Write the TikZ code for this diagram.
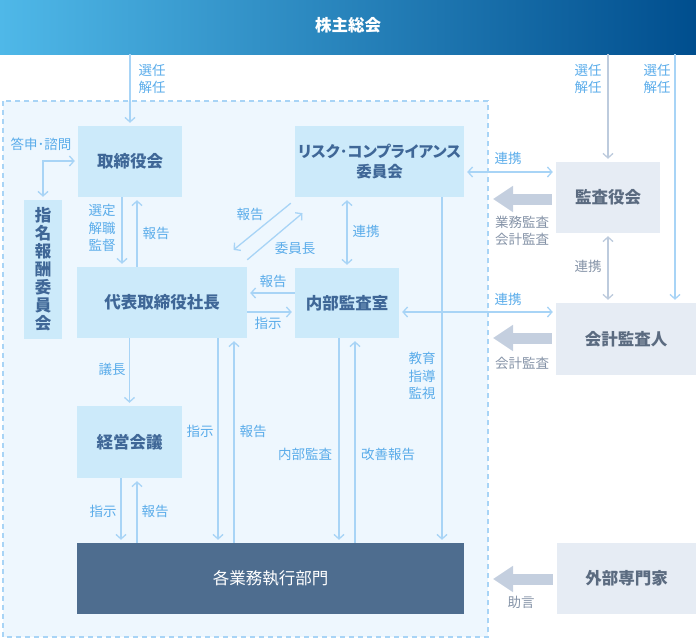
\documentclass[tikz,border=0pt]{standalone}
\usepackage{fontspec}
\setmainfont{Noto Sans CJK JP}
\newfontfamily\paltfont[RawFeature=+palt]{Noto Sans CJK JP}
\usetikzlibrary{arrows.meta}
\definecolor{hdrL}{HTML}{4FB8E8}
\definecolor{hdrR}{HTML}{004E8E}
\definecolor{boxblue}{HTML}{CCEAFA}
\definecolor{boxtxt}{HTML}{3F6797}
\definecolor{graybox}{HTML}{E6ECF4}
\definecolor{graytxt}{HTML}{5B6B80}
\definecolor{darkbox}{HTML}{4E6D8F}
\definecolor{lblblue}{HTML}{5AACEA}
\definecolor{lineblue}{HTML}{A8D4F6}
\definecolor{linegray}{HTML}{BDCBDD}
\definecolor{lblgray}{HTML}{8593A7}
\definecolor{areafill}{HTML}{EEF7FE}
\definecolor{fatgray}{HTML}{C4CFDF}
\tikzset{
  boxb/.style={fill=boxblue, text=boxtxt, font=\fontsize{16.5}{20}\selectfont\bfseries, inner sep=0pt, align=center},
  boxg/.style={fill=graybox, text=graytxt, font=\fontsize{16.5}{20}\selectfont\bfseries, inner sep=0pt, align=center},
  boxd/.style={fill=darkbox, text=white, font=\fontsize{16.5}{20}\selectfont, inner sep=0pt},
  lbl/.style={text=lblblue, font=\fontsize{13.5}{17.5}\selectfont, inner sep=0pt, align=center},
  lblg/.style={lbl, text=lblgray},
  arr/.style={draw=lineblue, line width=1.3pt, -{Straight Barb[length=4.5pt,width=10pt]}, shorten >=3pt},
  darr/.style={arr, {Straight Barb[length=4.5pt,width=10pt]}-{Straight Barb[length=4.5pt,width=10pt]}, shorten <=3pt},
  arrg/.style={arr, draw=linegray},
  darrg/.style={darr, draw=linegray},
  fat/.style={draw=fatgray, line width=11pt, -{Triangle[length=20pt,width=25pt]}}
}
\begin{document}
\begin{tikzpicture}[x=1pt,y=-1pt]
\useasboundingbox (0,0) rectangle (696,640);
% header
\shade[left color=hdrL, right color=hdrR] (0,0) rectangle (696,54);
\node[text=white, font=\fontsize{16.5}{20}\selectfont\bfseries] (gm) at (348,25) {株主総会};
\coordinate (gmA) at (130,54);
\coordinate (gmB) at (608,54);
\coordinate (gmC) at (675,54);
% area
\draw[draw=lineblue, fill=areafill, line width=1.3pt, dash pattern=on 5pt off 4pt] (3,101) rectangle (488,637);
% boxes
\node[boxb, minimum width=104pt, minimum height=71pt] (tb) at (130,161.5) {取締役会};
\node[boxb, minimum width=38pt, minimum height=139pt, font=\fontsize{16.5}{18}\selectfont\bfseries] (nr) at (43,269.5) {指\\名\\報\\酬\\委\\員\\会};
\node[boxb, minimum width=169pt, minimum height=71pt, text width=169pt, font=\fontsize{15.5}{20}\selectfont\paltfont\bfseries] (rc) at (379.5,161.5) {リスク･コンプライアンス\\委員会};
\node[boxb, minimum width=170pt, minimum height=71pt] (ceo) at (162,302.5) {代表取締役社長};
\node[boxb, minimum width=104pt, minimum height=70pt] (ia) at (347,303) {内部監査室};
\node[boxb, minimum width=105pt, minimum height=72pt] (mc) at (129.5,442) {経営会議};
\node[boxd, minimum width=387pt, minimum height=71pt] (ops) at (270.5,578.5) {各業務執行部門};
\node[boxg, minimum width=104pt, minimum height=71pt] (kb) at (608,197.5) {監査役会};
\node[boxg, minimum width=140pt, minimum height=72pt] (ka) at (626,339) {会計監査人};
\node[boxg, minimum width=139pt, minimum height=71pt] (ex) at (626.5,578.5) {外部専門家};
% top appointment arrows
\draw[arr] (gmA) -- (tb.north);
\draw[arrg] (gmB) -- (kb.north);
\draw[arr] (gmC) -- (gmC |- ka.north);
\node[lbl] (l1) at (152,79) {選任\\解任};
\node[lbl] (l2) at (588,79) {選任\\解任};
\node[lbl] (l3) at (657,79) {選任\\解任};
% 答申・諮問
\draw[darr] (tb.west |- 0,161) -| (nr.north);
\node[lbl, font=\fontsize{13.5}{17.5}\selectfont\paltfont] (l4) at (41,144) {答申･諮問};
% 取締役会 - 代表
\draw[arr] ([xshift=-8pt]tb.south) -- ([xshift=-8pt]tb.south |- ceo.north);
\draw[arr] ([xshift=7pt]tb.south |- ceo.north) -- ([xshift=7pt]tb.south);
\node[lbl] (l5) at (102,228) {選定\\解職\\監督};
\node[lbl] (l6) at (156,233) {報告};
% diagonals
\draw[arr] ([xshift=-4pt,yshift=-6pt]rc.south west) -- ([xshift=-16pt,yshift=15pt]ceo.north east);
\draw[arr] ([yshift=7pt]ceo.north east) -- ([xshift=10pt,yshift=-14pt]rc.south west);
\node[lbl] (l7) at (250,214) {報告};
\node[lbl] (l8) at (295,248) {委員長};
% 連携 rc - ia
\draw[darr] (ia.north |- rc.south) -- (ia.north);
\node[lbl] (l9) at (366,231) {連携};
% ia - ceo
\draw[arr] (ia.west |- 0,293) -- (ceo.east |- 0,293);
\draw[arr] (ceo.east |- 0,312) -- (ia.west |- 0,312);
\node[lbl] (l10) at (273,281) {報告};
\node[lbl] (l11) at (268,323) {指示};
% rc - kb
\draw[darr] (rc.east |- 0,172) -- (kb.west |- 0,172);
\node[lbl] (l12) at (508,158) {連携};
\coordinate (f1) at (493,199);
\draw[fat] (kb.west |- f1) ++(-4,0) -- (f1);
\node[lblg] (l13) at (522,231) {業務監査\\会計監査};
% kb - ka
\draw[darrg] (kb.south) -- (kb.south |- ka.north);
\node[lblg] (l14) at (588,266) {連携};
% ia - ka
\draw[darr] (ia.east |- 0,312) -- (ka.west |- 0,312);
\node[lbl] (l15) at (508,299) {連携};
\coordinate (f2) at (493,338);
\draw[fat] (ka.west |- f2) ++(-4,0) -- (f2);
\node[lblg] (l16) at (522,363) {会計監査};
% ex
\coordinate (f3) at (493,579);
\draw[fat] (ex.west |- f3) ++(-4,0) -- (f3);
\node[lblg] (l17) at (521,602) {助言};
% ceo - mc
\draw[arr] (ceo.south -| mc.north) -- (mc.north);
\node[lbl] (l18) at (112,369) {議長};
% mc - ops
\draw[arr] ([xshift=-8.5pt]mc.south) -- ([xshift=-8.5pt]mc.south |- ops.north);
\draw[arr] ([xshift=7.5pt]mc.south |- ops.north) -- ([xshift=7.5pt]mc.south);
\node[lbl] (l19) at (103,511) {指示};
\node[lbl] (l20) at (155,511) {報告};
% ceo - ops
\draw[arr] (ceo.south -| 218,0) -- (ops.north -| 218,0);
\draw[arr] (ops.north -| 234,0) -- (ceo.south -| 234,0);
\node[lbl] (l21) at (200,431) {指示};
\node[lbl] (l22) at (253,431) {報告};
% ia - ops
\draw[arr] (ia.south -| 339,0) -- (ops.north -| 339,0);
\draw[arr] (ops.north -| 355,0) -- (ia.south -| 355,0);
\node[lbl] (l23) at (305,454) {内部監査};
\node[lbl] (l24) at (388,454) {改善報告};
% rc - ops
\draw[arr] (rc.south -| 442,0) -- (ops.north -| 442,0);
\node[lbl] (l25) at (422,376) {教育\\指導\\監視};
\end{tikzpicture}
\end{document}
